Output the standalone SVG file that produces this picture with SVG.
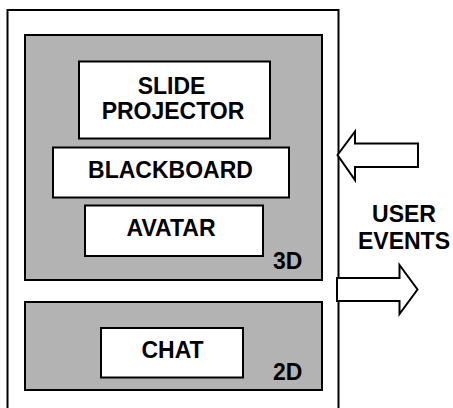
<svg xmlns="http://www.w3.org/2000/svg" width="453" height="408" viewBox="0 0 453 408">
  <style>
    .frame { fill: #ffffff; stroke: #000000; stroke-width: 2; }
    .layer { fill: #b3b3b3; stroke: #000000; stroke-width: 2; }
    .box { fill: #ffffff; stroke: #000000; stroke-width: 2; }
    .arrow { fill: #ffffff; stroke: #000000; stroke-width: 2; stroke-linejoin: miter; }
    .lbl { font-family: "Liberation Sans", Arial, sans-serif; font-weight: bold; font-size: 23px; fill: #000000; }
    .mid { text-anchor: middle; }
  </style>

  <rect width="453" height="408" fill="#ffffff"/>

  <!-- application window (open at the bottom) -->
  <g id="window">
    <rect class="frame" x="7.5" y="10" width="331" height="420"/>
  </g>

  <!-- 3D layer -->
  <g id="layer-3d">
    <rect class="layer" x="25" y="35" width="297" height="245"/>
    <text class="lbl" x="273" y="269">3D</text>
  </g>

  <g id="slide-projector">
    <rect class="box" x="79" y="61.5" width="191" height="77"/>
    <text class="lbl mid" x="171.5" y="93.5">SLIDE</text>
    <text class="lbl mid" x="173" y="118.5">PROJECTOR</text>
  </g>

  <g id="blackboard">
    <rect class="box" x="53" y="147.5" width="236" height="50"/>
    <text class="lbl mid" x="170.5" y="177.5">BLACKBOARD</text>
  </g>

  <g id="avatar">
    <rect class="box" x="85" y="205.5" width="178" height="50.5"/>
    <text class="lbl mid" x="171" y="235.5">AVATAR</text>
  </g>

  <!-- 2D layer -->
  <g id="layer-2d">
    <rect class="layer" x="25" y="302" width="297" height="88"/>
    <text class="lbl" x="273" y="380">2D</text>
  </g>

  <g id="chat">
    <rect class="box" x="101" y="328" width="142" height="49.5"/>
    <text class="lbl mid" x="172.5" y="357.5">CHAT</text>
  </g>

  <!-- user event flow in and out of the window -->
  <g id="connectors">
    <polygon class="arrow" points="337.5,155 355,131.5 355,143.5 418,143.5 418,167 355,167 355,180"/>
    <polygon class="arrow" points="337,278 399.5,278 399.5,265 417.5,289.5 399.5,314 399.5,301 337,301"/>
  </g>

  <g id="user-events">
    <text class="lbl mid" x="404" y="221.5">USER</text>
    <text class="lbl mid" x="404" y="248.5">EVENTS</text>
  </g>
</svg>
